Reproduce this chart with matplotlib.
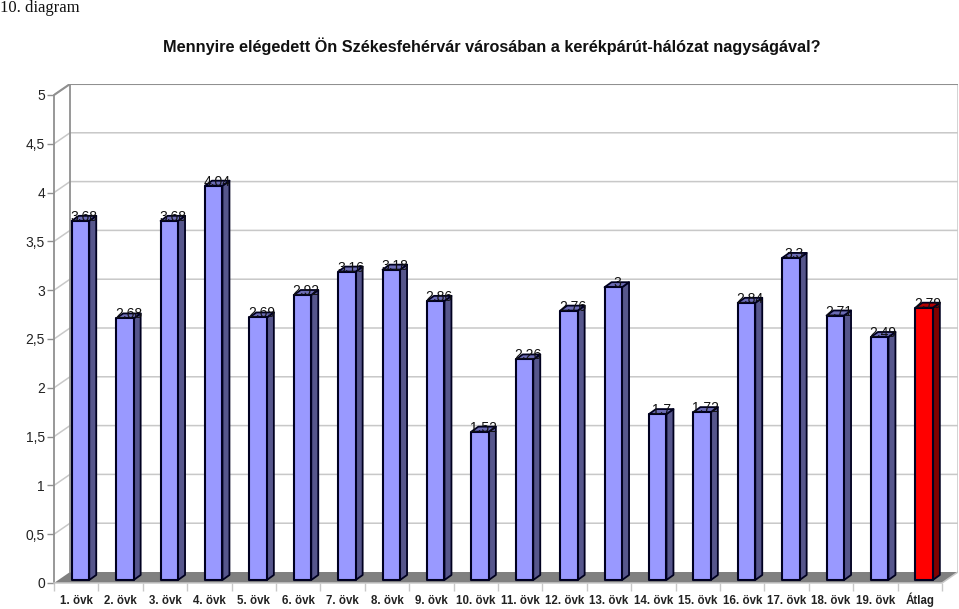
import numpy as np
import matplotlib
matplotlib.use("Agg")
import matplotlib.pyplot as plt
from matplotlib.patches import Polygon

plt.rcParams['font.family'] = ['Liberation Sans', 'DejaVu Sans']

categories = ['1. övk', '2. övk', '3. övk', '4. övk', '5. övk', '6. övk', '7. övk',
              '8. övk', '9. övk', '10. övk', '11. övk', '12. övk', '13. övk', '14. övk',
              '15. övk', '16. övk', '17. övk', '18. övk', '19. övk', 'Átlag']
values = [3.68, 2.68, 3.68, 4.04, 2.69, 2.92, 3.16, 3.18, 2.86, 1.52,
          2.26, 2.76, 3, 1.7, 1.72, 2.84, 3.3, 2.71, 2.49, 2.79]
value_labels = ['3.68', '2.68', '3.68', '4.04', '2.69', '2.92', '3.16', '3.18', '2.86', '1.52',
                '2.26', '2.76', '3', '1.7', '1.72', '2.84', '3.3', '2.71', '2.49', '2.79']
y_ticks = [0, 0.5, 1, 1.5, 2, 2.5, 3, 3.5, 4, 4.5, 5]
y_labels = ['0', '0,5', '1', '1,5', '2', '2,5', '3', '3,5', '4', '4,5', '5']

W, H = 959, 609
# pixel sizes of the front plane, used to turn the 3D offsets into data units
CAT_PX = 44.4
UNIT_PX = 97.6
LEFT, BOTTOM = 54, 583
RIGHT, TOP = 958, 84

fig = plt.figure(figsize=(W / 100, H / 100), dpi=100)
ax = fig.add_axes([LEFT / W, 1 - BOTTOM / H, (RIGHT - LEFT) / W, (BOTTOM - TOP) / H])
ax.set_xlim(-0.5, -0.5 + (RIGHT - LEFT) / CAT_PX)
ax.set_ylim(0, (BOTTOM - TOP) / UNIT_PX)
ax.patch.set_visible(False)


def dx(px):
    return px / CAT_PX


def dy(px):
    return px / UNIT_PX


GRID = '#c8c8c8'
AXIS = '#909090'
DEPTH_X, DEPTH_Y = 16, 11
n = len(categories)
x0, x1 = -0.5, n - 0.5

# floor and walls
ax.add_patch(Polygon([(x0, 0), (x1, 0), (x1 + dx(DEPTH_X), dy(DEPTH_Y)), (x0 + dx(DEPTH_X), dy(DEPTH_Y))],
                     fc='#808080', ec='none', zorder=1))
for t in y_ticks[1:]:
    ax.plot([x0, x0 + dx(DEPTH_X), x1 + dx(DEPTH_X)],
            [t, t + dy(DEPTH_Y), t + dy(DEPTH_Y)], color=GRID, lw=1.1, zorder=1)
ax.plot([x0 + dx(DEPTH_X)] * 2, [dy(DEPTH_Y), 5 + dy(DEPTH_Y)], color=AXIS, lw=1.3, zorder=1.1)
ax.plot([x1 + dx(DEPTH_X)] * 2, [dy(DEPTH_Y), 5 + dy(DEPTH_Y)], color=GRID, lw=1.1, zorder=1.1)
ax.plot([x0, x0 + dx(DEPTH_X), x1 + dx(DEPTH_X)],
        [5, 5 + dy(DEPTH_Y), 5 + dy(DEPTH_Y)], color=AXIS, lw=1.5, zorder=1.1)
ax.plot([x1, x1 + dx(DEPTH_X)], [0, dy(DEPTH_Y)], color=GRID, lw=1.1, zorder=1.1)

# bars
BAR_W = 17.5 / CAT_PX
SIDE_X, SIDE_Y = 7, 5
SHIFT_X, SHIFT_Y = 4.3, 3
for i, v in enumerate(values):
    front, side, top = ('#9999ff', '#56568c', '#6c6cb4')
    if categories[i] == 'Átlag':
        front, side, top = ('#ff0000', '#800000', '#b00000')
    l = i + dx(SHIFT_X) - BAR_W / 2
    r = l + BAR_W
    b = dy(SHIFT_Y)
    tp = b + v
    sx, sy = dx(SIDE_X), dy(SIDE_Y)
    ax.add_patch(Polygon([(r, b), (r + sx, b + sy), (r + sx, tp + sy), (r, tp)],
                         fc=side, ec='#000020', lw=1.3, joinstyle='round', zorder=3))
    ax.add_patch(Polygon([(l, tp), (r, tp), (r + sx, tp + sy), (l + sx, tp + sy)],
                         fc=top, ec='#000020', lw=1.3, joinstyle='round', zorder=3))
    ax.add_patch(Polygon([(l, b), (r, b), (r, tp), (l, tp)],
                         fc=front, ec='#000020', lw=1.5, joinstyle='round', zorder=4))
    ax.text(l + BAR_W / 2 + sx / 2, tp + sy + dy(-1), value_labels[i], ha='center', va='center',
            fontsize=10, color='#111111', zorder=5)

# axes
for s in ['top', 'right']:
    ax.spines[s].set_visible(False)
ax.spines['left'].set_bounds(0, 5)
ax.spines['bottom'].set_bounds(x0, x1)
ax.spines['left'].set_color(AXIS)
ax.spines['bottom'].set_color(GRID)
ax.spines['left'].set_linewidth(1.3)
ax.spines['bottom'].set_linewidth(1.1)

ax.set_yticks(y_ticks)
ax.set_yticklabels(y_labels, fontsize=10, color='#222222')
ax.tick_params(axis='y', length=5, width=1, color=AXIS, pad=1.5)
ax.set_xticks(np.arange(n))
ax.set_xticklabels(categories, fontsize=8.3, fontweight='bold', color='#222222', va='baseline')
ax.set_xticks(np.arange(n + 1) - 0.5, minor=True)
ax.tick_params(axis='x', which='major', length=0, pad=15)
ax.tick_params(axis='x', which='minor', length=6, width=1, color=GRID)

fig.text(0.5 * (163 + 820) / W, 1 - 46 / H, 'Mennyire elégedett Ön Székesfehérvár városában a kerékpárút-hálózat nagyságával?',
         ha='center', va='center', fontsize=11.7, fontweight='bold', color='#111111')
fig.text(0, 1 - 12 / H, '10. diagram', ha='left', va='baseline', fontsize=12,
         family='Liberation Serif', color='#111111')

fig.savefig('out.png', dpi=100)
